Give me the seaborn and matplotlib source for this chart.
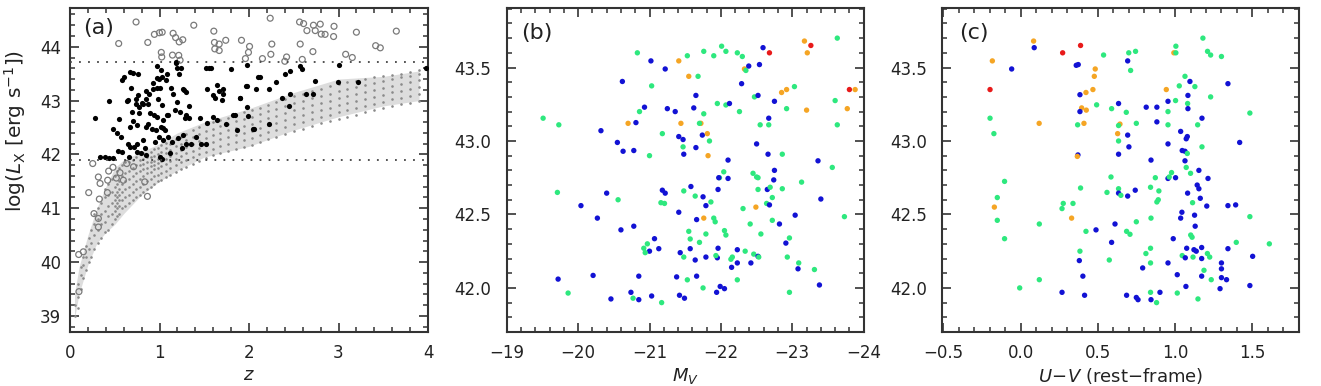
import numpy as np
import pandas as pd
import matplotlib
matplotlib.use("Agg")
import matplotlib.pyplot as plt
from matplotlib.ticker import MultipleLocator, FuncFormatter
import seaborn as sns

sns.set_style("ticks")
plt.rcParams['font.family'] = ['DejaVu Sans']
plt.rcParams['mathtext.fontset'] = 'dejavusans'
plt.rcParams['xtick.minor.visible'] = True
plt.rcParams['ytick.minor.visible'] = True

# ---------------- Panel (a) data ----------------
# background cloud (gray tiny dots), read column by column
cloud_cols = [
    (0.06, [39.0, 39.2]), (0.09, [39.15, 39.35, 39.6]), (0.12, [39.5, 39.75, 39.9]),
    (0.15, [39.7, 39.95, 40.1]), (0.18, [39.85, 40.1, 40.3]), (0.21, [40.0, 40.25, 40.45]),
    (0.24, [40.1, 40.35, 40.6]), (0.27, [40.25, 40.5, 40.7, 40.9]), (0.31, [40.35, 40.6, 40.8, 41.0]),
    (0.35, [40.45, 40.7, 40.9, 41.1]), (0.39, [40.55, 40.75, 40.95, 41.2, 41.35]),
    (0.43, [40.6, 40.85, 41.05, 41.25, 41.45]), (0.47, [40.7, 40.9, 41.1, 41.3, 41.55]),
    (0.50, [40.8, 40.95, 41.05, 41.15, 41.25, 41.4, 41.6]),
    (0.52, [40.85, 41.0, 41.1, 41.2, 41.3, 41.45, 41.7]),
    (0.55, [40.9, 41.05, 41.15, 41.25, 41.35, 41.5, 41.75]),
    (0.58, [41.0, 41.15, 41.3, 41.45, 41.6, 41.8]), (0.62, [41.05, 41.2, 41.35, 41.5, 41.65, 41.85]),
    (0.66, [41.1, 41.25, 41.4, 41.55, 41.7, 41.85]), (0.70, [41.15, 41.3, 41.45, 41.6, 41.75, 41.9]),
    (0.74, [41.2, 41.35, 41.5, 41.65, 41.8, 41.95]), (0.78, [41.25, 41.4, 41.55, 41.7, 41.8, 41.9]),
    (0.82, [41.3, 41.45, 41.6, 41.72, 41.82, 41.92, 42.02]), (0.86, [41.35, 41.5, 41.65, 41.75, 41.85, 41.95]),
    (0.90, [41.4, 41.55, 41.68, 41.78, 41.86, 41.95, 42.05]), (0.94, [41.45, 41.6, 41.72, 41.8, 41.88, 41.97, 42.1]),
    (0.98, [41.5, 41.62, 41.75, 41.84, 41.92, 42.0, 42.12]), (1.02, [41.52, 41.66, 41.78, 41.88, 41.96, 42.05, 42.18]),
    (1.07, [41.58, 41.7, 41.82, 41.92, 42.02, 42.12, 42.22]), (1.12, [41.62, 41.75, 41.87, 41.97, 42.08, 42.2]),
    (1.18, [41.67, 41.8, 41.92, 42.03, 42.15, 42.28]), (1.24, [41.72, 41.85, 41.97, 42.08, 42.2, 42.33]),
    (1.30, [41.77, 41.9, 42.02, 42.14, 42.26, 42.38]), (1.37, [41.82, 41.95, 42.07, 42.2, 42.32, 42.45]),
    (1.44, [41.87, 42.0, 42.12, 42.25, 42.38, 42.5]), (1.52, [41.93, 42.05, 42.18, 42.3, 42.43, 42.56]),
    (1.60, [41.98, 42.1, 42.23, 42.36, 42.48, 42.6]), (1.68, [42.02, 42.15, 42.28, 42.4, 42.52, 42.64]),
    (1.76, [42.06, 42.19, 42.32, 42.45, 42.57, 42.68]), (1.85, [42.1, 42.23, 42.36, 42.49, 42.62, 42.73]),
    (1.94, [42.14, 42.27, 42.4, 42.53, 42.66, 42.78]), (2.03, [42.18, 42.31, 42.44, 42.57, 42.7, 42.82]),
    (2.12, [42.23, 42.36, 42.49, 42.62, 42.75, 42.87]), (2.21, [42.28, 42.41, 42.54, 42.67, 42.8, 42.92]),
    (2.30, [42.33, 42.46, 42.59, 42.72, 42.85, 42.97]), (2.40, [42.38, 42.51, 42.64, 42.77, 42.9, 43.02]),
    (2.50, [42.43, 42.56, 42.69, 42.82, 42.95, 43.08]), (2.60, [42.48, 42.6, 42.73, 42.86, 42.99, 43.12]),
    (2.70, [42.53, 42.65, 42.78, 42.91, 43.04, 43.17]), (2.80, [42.58, 42.7, 42.83, 42.96, 43.09, 43.22]),
    (2.90, [42.62, 42.74, 42.87, 43.0, 43.13, 43.27]), (3.00, [42.66, 42.78, 42.91, 43.04, 43.17, 43.31]),
    (3.10, [42.7, 42.82, 42.95, 43.08, 43.21, 43.34]), (3.20, [42.74, 42.86, 42.99, 43.12, 43.25, 43.37]),
    (3.30, [42.78, 42.9, 43.03, 43.16, 43.29, 43.4]), (3.40, [42.82, 42.94, 43.07, 43.2, 43.32, 43.43]),
    (3.50, [42.86, 42.98, 43.11, 43.24, 43.36, 43.45]), (3.60, [42.9, 43.02, 43.15, 43.28, 43.4, 43.48]),
    (3.70, [42.93, 43.05, 43.18, 43.31, 43.43, 43.5]), (3.80, [42.96, 43.08, 43.21, 43.34, 43.46, 43.53]),
    (3.90, [43.0, 43.12, 43.25, 43.38, 43.5, 43.56]),
]
cloud_z = [z for z, ls in cloud_cols for _ in ls]
cloud_lx = [v for z, ls in cloud_cols for v in ls]

# envelope of the cloud
band_z = [0.05, 0.1, 0.2, 0.3, 0.4, 0.5, 0.6, 0.8, 1.0, 1.2, 1.5, 2.0, 2.5, 3.0, 3.5, 3.9]
band_lo = [38.95, 39.4, 39.95, 40.35, 40.55, 40.7, 40.9, 41.25, 41.5, 41.7, 41.95, 42.15, 42.45, 42.7, 42.9, 43.0]
band_hi = [39.4, 39.9, 40.5, 41.0, 41.4, 41.75, 41.9, 42.05, 42.2, 42.4, 42.6, 42.85, 43.15, 43.4, 43.45, 43.55]

# open circles (outside selection)
open_z = [0.544, 0.738, 0.869, 0.943, 0.999, 1.03, 1.02, 1.025, 1.152, 1.18, 1.22, 1.26, 1.145, 1.215, 1.23,
          1.383, 1.607, 1.614, 1.667, 1.618, 1.667, 1.74, 1.916, 2.006, 1.994, 1.96, 2.237, 2.255, 2.244, 2.15,
          2.42, 2.40, 2.565, 2.61, 2.572, 2.595, 2.647, 2.72, 2.74, 2.796, 2.807, 2.85, 2.95, 2.945, 2.714,
          3.08, 3.154, 3.20, 3.415, 3.467, 3.646,
          0.254, 0.209, 0.317, 0.336, 0.268, 0.328, 0.432, 0.421, 0.48, 0.518, 0.559, 0.596, 0.418, 0.317,
          0.317, 0.097, 0.149, 0.10, 0.634, 0.865, 0.835, 0.71]
open_lx = [44.06, 44.46, 44.08, 44.23, 44.26, 44.27, 43.895, 43.81, 44.25, 44.17, 44.09, 44.13, 43.845, 43.84, 43.75,
           44.40, 44.29, 44.08, 44.05, 43.96, 43.93, 44.12, 44.12, 44.006, 43.895, 43.78, 44.53, 44.05, 43.86, 43.78,
           43.81, 43.73, 44.46, 44.43, 44.05, 43.765, 44.30, 44.40, 44.30, 44.42, 44.235, 44.23, 44.38, 44.19, 43.91,
           43.86, 43.80, 44.27, 44.02, 43.98, 44.29,
           41.83, 41.29, 41.58, 41.46, 40.90, 41.17, 41.69, 41.52, 41.76, 41.56, 41.66, 41.52, 41.29, 40.65,
           40.81, 40.14, 40.19, 39.45, 41.83, 41.22, 41.49, 41.77]

# selected sources (black dots)
sel_z = [0.578, 0.604, 0.671, 0.70, 0.757, 0.679, 0.85, 0.44, 0.283, 0.641, 0.734, 0.775, 0.805, 0.85, 0.932,
         0.97, 1.006, 0.999, 1.025, 1.073, 1.088, 1.014, 0.97, 1.185, 1.193, 1.222, 1.275, 1.293, 1.2, 1.17,
         1.23, 1.286, 1.335, 1.1, 1.043, 0.97, 0.894, 0.876, 0.85, 0.962, 1.014, 1.063, 0.775, 0.70, 0.671,
         0.544, 0.477, 0.529, 0.567, 0.645, 0.671, 0.716, 0.753, 0.813, 0.839, 0.95, 0.999, 1.043, 1.092, 1.14,
         1.211, 1.267, 1.297, 1.35, 1.409, 1.521, 1.536, 1.596, 1.528, 1.62, 1.707, 1.715, 1.797, 1.52, 1.558,
         1.901, 1.968, 1.826, 2.05, 2.106, 0.335, 0.391, 0.44, 0.485, 0.578, 0.663, 0.746, 0.79, 0.85, 1.006,
         1.025, 1.118, 1.249, 0.54,
         0.652, 0.697, 0.738, 0.753, 0.764, 0.813, 0.869, 0.884, 0.913, 0.925, 0.943, 0.977, 0.988, 1.033,
         1.044, 1.081, 1.126, 1.156, 1.182, 1.238, 1.26, 1.294, 1.33, 1.454, 1.469, 1.573, 1.603, 1.64, 1.648,
         1.67, 1.696, 1.745, 1.845, 1.87, 1.90, 1.983, 1.976, 1.983, 1.994, 2.058, 2.08, 2.125, 2.22, 2.226,
         2.30, 2.367, 2.397, 2.45, 2.453, 2.46, 2.572, 2.59, 2.636, 2.72, 2.74, 2.99, 3.0, 3.22, 3.974]
sel_lx = [43.38, 43.44, 43.535, 43.52, 43.49, 43.24, 43.18, 43.0, 42.67, 43.0, 42.93, 42.88, 42.95, 43.03, 43.21,
          43.24, 43.24, 43.41, 43.44, 43.38, 43.49, 43.566, 43.64, 43.72, 43.6, 43.49, 43.19, 43.16, 42.98, 42.82,
          42.79, 42.67, 42.67, 42.73, 42.64, 42.70, 42.76, 42.56, 42.51, 42.45, 42.5, 42.46, 42.76, 42.62, 42.51,
          42.66, 42.48, 42.40, 42.33, 42.20, 42.14, 42.14, 42.20, 42.265, 42.11, 42.235, 42.33, 42.265, 42.33, 42.235,
          42.30, 42.36, 42.19, 42.20, 42.33, 42.19, 42.59, 42.69, 43.21, 43.04, 43.21, 43.13, 43.58, 43.61, 43.61,
          43.04, 43.27, 42.73, 42.48, 43.44, 41.96, 41.96, 41.93, 41.93, 42.05, 41.96, 42.05, 42.02, 41.98, 41.96,
          41.91, 42.03, 42.11, 42.07,
          43.01, 42.79, 43.02, 42.54, 43.10, 42.93, 42.93, 43.12, 42.48, 43.33, 42.74, 43.42, 43.02, 42.92,
          42.49, 42.73, 43.23, 43.13, 43.69, 43.61, 43.21, 42.73, 42.90, 42.67, 42.19, 43.60, 43.10, 43.29, 42.64,
          43.18, 43.01, 42.57, 42.73, 42.46, 43.04, 43.66, 43.27, 42.885, 42.71, 42.48, 43.21, 43.44, 43.21, 42.56,
          43.35, 43.05, 43.50, 42.90, 43.12, 43.55, 43.65, 43.58, 43.12, 43.12, 43.36, 43.35, 43.66, 43.35, 43.60]

lx_cuts = [41.89, 43.71]

# ---------------- Panel (b) data ----------------
b_mv = [-20.83, -21.02, -21.22, -21.41, -21.53, -21.55, -21.68, -21.76, -21.90, -22.01, -22.07, -22.23, -22.30,
        -22.33, -22.35, -22.39, -22.54, -22.59, -22.68, -23.17, -23.26, -23.21, -23.63, -23.80, -23.88, -20.62,
        -21.03, -22.29, -22.47, -22.52, -22.85, -22.92, -23.03, -21.65, -23.60, -22.75, -22.92, -23.20, -23.77,
        -20.93, -20.86, -21.25, -21.36, -21.62, -21.76, -21.95, -22.07, -22.12, -22.26, -22.67, -22.55, -22.67,
        -23.63, -19.51, -19.73, -20.70, -20.81, -21.44, -21.72, -21.70, -21.18, -20.32, -21.74, -21.81, -21.84,
        -21.41, -21.47, -20.55, -21.47, -21.65, -22.50, -20.63, -20.78, -21.00, -21.48, -21.82, -22.66, -22.86,
        -22.10, -23.36, -23.56,
        -22.75, -22.04, -21.98, -21.97, -22.10, -22.45, -22.50, -22.52, -22.74, -23.13, -21.58, -21.18, -21.22,
        -21.48, -21.96, -22.52, -22.65, -22.69, -22.86, -20.40, -19.71, -20.56, -21.64, -21.75, -22.72, -21.16,
        -21.21, -21.86, -21.79, -22.64, -22.68, -23.40, -20.04, -22.31, -22.49, -21.41, -23.04, -20.27, -21.76,
        -21.90, -21.66, -21.92, -22.72, -22.41, -22.82, -23.73, -20.60, -20.78, -21.55, -22.05, -22.07, -21.79,
        -22.56, -21.57, -21.07, -21.70, -22.96, -22.91, -20.97, -20.92, -21.13, -21.00, -20.94, -21.57, -21.43,
        -21.96, -22.23, -22.34, -22.46, -22.52, -22.53, -21.95, -21.93, -22.16, -22.14, -21.48, -21.79, -21.64,
        -22.23, -22.42, -22.15, -22.93, -23.09, -23.08, -23.31, -21.66, -21.38, -20.85, -20.21, -19.72, -21.53,
        -22.23, -23.38, -21.99, -22.05, -21.94, -21.75, -22.96, -19.86, -20.74, -21.03, -21.42, -21.49, -20.46,
        -20.77, -20.85, -21.17]
b_lx = [43.60, 43.545, 43.49, 43.545, 43.58, 43.44, 43.44, 43.61, 43.58, 43.645, 43.61, 43.60, 43.575,
        43.49, 43.48, 43.51, 43.52, 43.635, 43.60, 43.68, 43.65, 43.60, 43.70, 43.35, 43.35, 43.405,
        43.375, 43.39, 43.30, 43.31, 43.33, 43.35, 43.37, 43.31, 43.275, 43.27, 43.22, 43.21, 43.22,
        43.23, 43.20, 43.22, 43.20, 43.225, 43.185, 43.255, 43.245, 43.255, 43.20, 43.155, 43.11, 43.11,
        43.11, 43.155, 43.11, 43.12, 43.125, 43.12, 43.12, 43.12, 43.05, 43.07, 43.04, 43.05, 43.00,
        43.03, 43.01, 42.99, 42.96, 42.955, 42.98, 42.93, 42.935, 42.90, 42.91, 42.90, 42.91, 42.91,
        42.87, 42.865, 42.82,
        42.80, 42.79, 42.75, 42.75, 42.745, 42.78, 42.755, 42.75, 42.735, 42.72, 42.69, 42.665, 42.645,
        42.66, 42.67, 42.67, 42.67, 42.685, 42.675, 42.645, 42.65, 42.60, 42.625, 42.62, 42.615, 42.58,
        42.575, 42.585, 42.56, 42.575, 42.565, 42.605, 42.56, 42.54, 42.55, 42.515, 42.495, 42.475, 42.475,
        42.475, 42.465, 42.45, 42.46, 42.435, 42.435, 42.485, 42.395, 42.42, 42.385, 42.39, 42.36, 42.367,
        42.367, 42.333, 42.335, 42.31, 42.34, 42.305, 42.30, 42.27, 42.267, 42.25, 42.24, 42.267, 42.24,
        42.27, 42.26, 42.25, 42.23, 42.215, 42.21, 42.205, 42.22, 42.21, 42.195, 42.21, 42.21, 42.19,
        42.17, 42.17, 42.14, 42.21, 42.17, 42.13, 42.125, 42.08, 42.075, 42.08, 42.085, 42.06, 42.055,
        42.055, 42.02, 42.01, 41.995, 41.97, 42.00, 41.97, 41.965, 41.97, 41.945, 41.95, 41.93, 41.925,
        41.93, 41.92, 41.90]
b_cls = ["G", "B", "B", "O", "G", "O", "G", "G", "G", "G", "G", "G", "G",
         "O", "G", "B", "B", "B", "R", "O", "R", "O", "G", "R", "O", "B",
         "G", "B", "G", "B", "O", "O", "G", "B", "G", "B", "G", "O", "O",
         "B", "G", "B", "B", "B", "G", "G", "G", "B", "G", "B", "G", "G",
         "G", "G", "G", "O", "B", "O", "O", "G", "G", "B", "B", "O", "G",
         "B", "B", "B", "G", "B", "B", "B", "B", "G", "B", "O", "B", "G",
         "B", "B", "G",
         "B", "G", "G", "B", "B", "G", "G", "G", "B", "G", "B", "B", "B",
         "G", "B", "G", "B", "G", "G", "B", "G", "G", "G", "B", "G", "G",
         "G", "G", "B", "G", "B", "B", "B", "G", "O", "B", "B", "B", "O",
         "G", "B", "G", "G", "G", "B", "G", "B", "B", "G", "G", "G", "G",
         "G", "G", "B", "G", "G", "B", "G", "G", "B", "B", "G", "B", "B",
         "B", "B", "G", "G", "B", "G", "B", "G", "G", "G", "G", "B", "B",
         "B", "B", "B", "G", "G", "B", "G", "B", "B", "B", "B", "B", "G",
         "G", "B", "B", "B", "B", "G", "G", "G", "B", "B", "B", "B", "B",
         "G", "B", "G"]

# ---------------- Panel (c) data ----------------
c_uv = [0.084, 0.088, 0.388, 0.272, 0.537, 0.70, 0.744, 1.005, 0.992, 1.005, 1.18, 1.21, 1.23, 1.30, -0.183,
        -0.058, 0.36, 0.373, 0.693, 0.712, 0.483, 0.477, 1.064, 1.096, 1.128, 1.027, 1.342, -0.198, 0.468,
        0.423, 0.943, 0.384, 1.083, 1.003, 1.23, 0.954, 1.081, 0.634, 0.492, 0.813, 0.882, 1.083, 0.395,
        0.425, 0.589, 0.384, 0.684, 0.954, 1.484, 1.174, -0.198, 0.12, 0.41, 0.369, 0.643, 0.634, 0.749,
        0.882, 0.954, 1.146, -0.173, 0.628, 0.693, 1.036, 1.079, 1.072, 0.634, 1.418, 0.954, 0.701, 1.174,
        0.634, 1.046, 1.064, 1.079, 0.371, 0.367, 1.064, 0.844, 1.072, 1.154, 1.100, 0.977, 0.872, 0.954,
        0.962, 1.003, 1.213, 0.585, -0.104, 0.742, 0.388, 0.634, 0.634, 0.649, 0.559, 0.693, 1.081, 0.895,
        1.143, 1.154, 0.841, 1.163, 0.891, 0.882, -0.151, 0.276, 0.339, 0.268, 1.342, 1.392, 1.205, 1.113,
        -0.17, 0.330, 1.044, 1.126, 1.036, 0.844, 0.749, 1.484, -0.151, 0.121, 0.611, 1.130, 0.488, 0.423,
        0.686, 0.708, 1.101, 1.110, 0.988, -0.104, 0.589, 1.396, 1.61, 1.172, 1.075, 0.841, 1.122, 1.137,
        1.342, 0.384, 1.046, 1.066, 1.116, 1.172, 1.209, 1.224, 0.811, 1.502, 0.380, 0.574, 1.300, 0.841,
        0.954, 0.790, 1.187, 1.300, 0.403, 1.014, 1.172, 1.30, 1.333, 1.234, 0.121, 1.484, 1.070, 1.291,
        -0.006, 0.268, 0.414, 0.841, 0.902, 1.014, 0.686, 0.844, 0.749, 0.760, 1.148, 0.880]
c_lx = [43.68, 43.635, 43.65, 43.60, 43.585, 43.60, 43.61, 43.645, 43.60, 43.60, 43.70, 43.61, 43.585, 43.575, 43.545,
        43.49, 43.515, 43.52, 43.545, 43.48, 43.49, 43.44, 43.44, 43.405, 43.37, 43.375, 43.39, 43.35, 43.35,
        43.33, 43.35, 43.315, 43.31, 43.275, 43.30, 43.27, 43.255, 43.255, 43.246, 43.23, 43.23, 43.22, 43.225,
        43.21, 43.22, 43.20, 43.195, 43.20, 43.19, 43.155, 43.155, 43.12, 43.12, 43.11, 43.115, 43.105, 43.12,
        43.13, 43.11, 43.11, 43.05, 43.05, 43.04, 43.065, 43.03, 43.015, 43.00, 42.99, 42.98, 42.96, 42.96,
        42.91, 42.935, 42.93, 42.915, 42.905, 42.895, 42.865, 42.87, 42.82, 42.80, 42.78, 42.785, 42.75, 42.745,
        42.755, 42.75, 42.745, 42.755, 42.725, 42.665, 42.68, 42.675, 42.645, 42.63, 42.65, 42.625, 42.645, 42.66,
        42.70, 42.675, 42.685, 42.61, 42.60, 42.585, 42.615, 42.575, 42.575, 42.54, 42.56, 42.565, 42.557, 42.58,
        42.55, 42.475, 42.515, 42.495, 42.475, 42.475, 42.45, 42.485, 42.46, 42.435, 42.435, 42.42, 42.395, 42.385,
        42.385, 42.365, 42.36, 42.345, 42.335, 42.335, 42.31, 42.31, 42.30, 42.275, 42.27, 42.27, 42.26, 42.25,
        42.267, 42.25, 42.22, 42.205, 42.21, 42.20, 42.234, 42.21, 42.234, 42.215, 42.186, 42.19, 42.17, 42.17,
        42.17, 42.136, 42.12, 42.13, 42.08, 42.09, 42.08, 42.07, 42.056, 42.056, 42.056, 42.016, 42.01, 41.995,
        42.00, 41.97, 41.95, 41.97, 41.97, 41.965, 41.95, 41.92, 41.935, 41.92, 41.925, 41.90]
c_cls = ["O", "B", "R", "R", "G", "G", "G", "G", "O", "G", "G", "G", "G", "G", "O",
         "B", "B", "B", "B", "G", "O", "O", "G", "B", "G", "G", "B", "R", "O",
         "O", "O", "B", "B", "G", "G", "B", "G", "B", "G", "B", "B", "B", "O",
         "O", "G", "B", "G", "G", "G", "B", "G", "O", "O", "G", "O", "G", "G",
         "B", "G", "G", "G", "O", "B", "B", "B", "B", "G", "B", "B", "B", "G",
         "B", "B", "B", "G", "B", "O", "B", "B", "G", "B", "G", "G", "G", "B",
         "G", "B", "B", "G", "G", "B", "G", "G", "B", "G", "G", "B", "B", "G",
         "B", "B", "G", "B", "G", "G", "G", "G", "G", "G", "B", "B", "B", "G",
         "O", "O", "B", "B", "B", "G", "G", "G", "G", "G", "B", "B", "B", "G",
         "G", "G", "G", "G", "B", "G", "B", "G", "G", "B", "B", "G", "B", "B",
         "B", "G", "G", "B", "G", "B", "G", "G", "G", "B", "B", "G", "B", "G",
         "B", "B", "G", "B", "B", "B", "B", "B", "B", "G", "G", "B", "B", "B",
         "G", "B", "B", "G", "B", "G", "B", "B", "B", "B", "G", "G"]

palette = {"B": "#1212d4", "G": "#2ee87e", "O": "#f5a524", "R": "#e81a1a"}

# ---------------- Figure ----------------
fig = plt.figure(figsize=(13.21, 3.86), dpi=100)
axA = fig.add_axes([70 / 1321, 54 / 386, 358 / 1321, 324 / 386])
axB = fig.add_axes([506.7 / 1321, 54 / 386, 357 / 1321, 324 / 386])
axC = fig.add_axes([942.3 / 1321, 54 / 386, 357 / 1321, 324 / 386])

TXT = "#222222"
SP = "#333333"


def style(ax, xmaj, xmin, ymaj, ymin, xfmt, yfmt, ypad):
    for s in ax.spines.values():
        s.set_visible(True)
        s.set_linewidth(1.5)
        s.set_color(SP)
    ax.xaxis.set_major_locator(MultipleLocator(xmaj))
    ax.xaxis.set_minor_locator(MultipleLocator(xmin))
    ax.yaxis.set_major_locator(MultipleLocator(ymaj))
    ax.yaxis.set_minor_locator(MultipleLocator(ymin))
    ax.xaxis.set_major_formatter(FuncFormatter(lambda v, p: xfmt.format(v).replace("-", "\u2212")))
    ax.yaxis.set_major_formatter(FuncFormatter(lambda v, p: yfmt.format(v).replace("-", "\u2212")))
    ax.minorticks_on()
    ax.tick_params(which="both", direction="in", top=True, right=True, bottom=True, left=True,
                   colors=SP, labelcolor=TXT, labelsize=12)
    ax.tick_params(which="major", length=6.5, width=1.2)
    ax.tick_params(which="minor", length=3.5, width=1.1)
    ax.tick_params(axis="x", which="major", pad=9)
    ax.tick_params(axis="y", which="major", pad=ypad)


# ---- (a)
axA.fill_between(band_z, band_lo, band_hi, color="#cfcfcf", alpha=0.7, linewidth=0, zorder=1)
sns.scatterplot(x=cloud_z, y=cloud_lx, ax=axA, marker="o", s=3.5, linewidth=0, color="#8a8a8a",
                zorder=2, legend=False)
sns.scatterplot(x=open_z, y=open_lx, ax=axA, marker="o", s=18, facecolor="none", edgecolor="#7a7a7a",
                linewidth=0.9, zorder=3, legend=False)
sns.scatterplot(x=sel_z, y=sel_lx, ax=axA, marker="o", s=14, color="black", linewidth=0, zorder=4,
                legend=False)
for yc in lx_cuts:
    axA.axhline(yc, color="#444444", lw=1.3, linestyle=(0, (1, 4)), zorder=5)
axA.set_xlim(0, 4)
axA.set_ylim(38.7, 44.72)
style(axA, 1, 0.1, 1, 0.1, "{:.0f}", "{:.0f}", 6.5)
axA.set_xlabel("$z$", fontsize=13, color=TXT)
axA.xaxis.set_label_coords(0.5, -0.105)
axA.set_ylabel(r"log($L_{\rm X}$ [erg s$^{-1}$])", fontsize=14.5, color=TXT)
axA.yaxis.set_label_coords(-0.118, 0.62)
axA.text(0.036, 0.97, "(a)", transform=axA.transAxes, ha="left", va="top", fontsize=16, color=TXT)

# ---- (b)
dfb = pd.DataFrame({"mv": b_mv, "lx": b_lx, "cls": b_cls})
sns.scatterplot(data=dfb, x="mv", y="lx", hue="cls", palette=palette, ax=axB, s=15, linewidth=0,
                legend=False, zorder=3)
axB.set_xlim(-19, -24)
axB.set_ylim(41.70, 43.905)
style(axB, 1, 0.1, 0.5, 0.1, "{:.0f}", "{:.1f}", 11)
axB.set_xlabel("$M_V$", fontsize=13, color=TXT)
axB.xaxis.set_label_coords(0.5, -0.105)
axB.set_ylabel("")
axB.text(0.04, 0.955, "(b)", transform=axB.transAxes, ha="left", va="top", fontsize=16, color=TXT)

# ---- (c)
dfc = pd.DataFrame({"uv": c_uv, "lx": c_lx, "cls": c_cls})
sns.scatterplot(data=dfc, x="uv", y="lx", hue="cls", palette=palette, ax=axC, s=15, linewidth=0,
                legend=False, zorder=3)
axC.set_xlim(-0.507, 1.804)
axC.set_ylim(41.70, 43.905)
style(axC, 0.5, 0.1, 0.5, 0.1, "{:.1f}", "{:.1f}", 11)
axC.set_xlabel("$U\\!-\\!V$ (rest\u2212frame)", fontsize=13, color=TXT)
axC.xaxis.set_label_coords(0.5, -0.105)
axC.set_ylabel("")
axC.text(0.047, 0.955, "(c)", transform=axC.transAxes, ha="left", va="top", fontsize=16, color=TXT)

fig.savefig("out.png", dpi=100, facecolor="white")
